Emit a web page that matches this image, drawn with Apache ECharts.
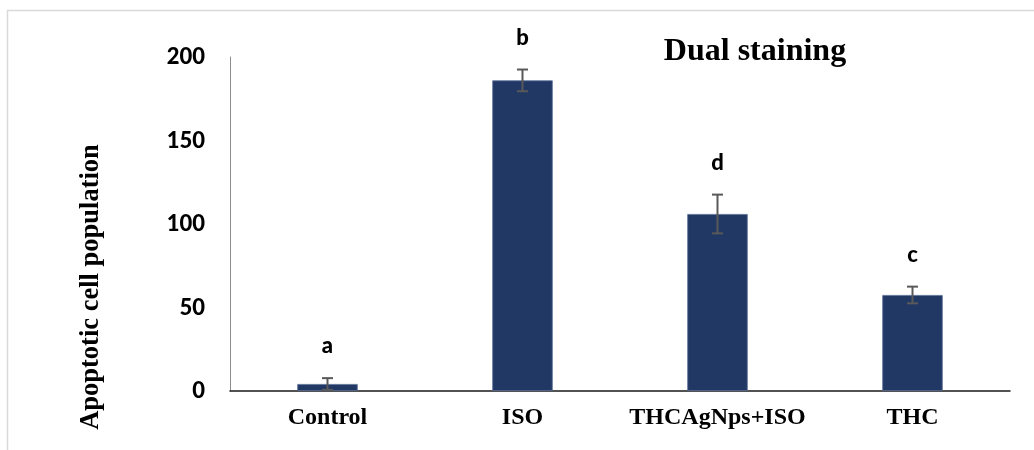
<!DOCTYPE html>
<html>
<head>
<meta charset="utf-8">
<script src="https://cdn.jsdelivr.net/npm/echarts@6/dist/echarts.min.js"></script>
<style>
html,body{margin:0;padding:0;background:#fff;}
#chart{width:1034px;height:450px;}
</style>
</head>
<body>
<div id="chart"></div>
<script>
const categories = ['Control', 'ISO', 'THCAgNps+ISO', 'THC'];
const means = [4.2, 186, 106, 57.5];
const errors = [3.5, 6.5, 11.6, 5];
const letters = ['a', 'b', 'd', 'c'];
const yTicks = [0, 50, 100, 150, 200];

const serif = "'Liberation Serif', 'Times New Roman', serif";
const sans = "Lato, 'Open Sans', sans-serif";

const chart = echarts.init(document.getElementById('chart'));
chart.setOption({
  backgroundColor: '#fff',
  animation: false,
  title: {
    text: 'Dual staining',
    left: 750,
    top: 31,
    textAlign: 'center',
    textStyle: { fontFamily: serif, fontWeight: 'bold', fontSize: 32, color: '#000' }
  },
  grid: { left: 230, right: 24, top: 57, bottom: 59 },
  xAxis: {
    type: 'category',
    data: categories,
    axisTick: { show: false },
    axisLine: { lineStyle: { color: '#1a1a1a', width: 1.5 } },
    axisLabel: { interval: 0, margin: 15, fontFamily: serif, fontWeight: 'bold', fontSize: 24, color: '#000' }
  },
  yAxis: {
    type: 'value',
    min: yTicks[0],
    max: yTicks[yTicks.length - 1],
    interval: 50,
    splitLine: { show: false },
    axisTick: { show: false },
    axisLine: { show: true, lineStyle: { color: '#8c8c8c', width: 1 } },
    axisLabel: { margin: 25, fontFamily: sans, fontWeight: 900, fontSize: 22, color: '#000' }
  },
  graphic: [
    {
      type: 'rect',
      shape: { x: 7.5, y: 10.5, width: 1040, height: 460 },
      style: { fill: 'none', stroke: '#d9d9d9', lineWidth: 1.5 },
      z: -1
    },
    {
      type: 'text',
      x: 91, y: 287,
      rotation: Math.PI / 2,
      style: {
        text: 'Apoptotic cell population',
        fontFamily: serif, fontWeight: 'bold', fontSize: 26.5, fill: '#000',
        textAlign: 'center', textVerticalAlign: 'middle'
      }
    }
  ],
  series: [
    {
      type: 'bar',
      data: means,
      barWidth: '31%',
      itemStyle: { color: '#213865', borderColor: '#5b6f96', borderWidth: 0.8 },
      z: 2
    },
    {
      type: 'custom',
      data: means.map((m, i) => [i, m, errors[i]]),
      z: 3,
      renderItem: function (params, api) {
        const i = api.value(0);
        const m = api.value(1);
        const e = api.value(2);
        const top = api.coord([i, m + e]);
        const bot = api.coord([i, Math.max(0, m - e)]);
        const x = top[0];
        const cap = 5.5;
        const st = { stroke: '#595959', lineWidth: 2 };
        return {
          type: 'group',
          children: [
            { type: 'line', shape: { x1: x, y1: top[1], x2: x, y2: bot[1] }, style: st },
            { type: 'line', shape: { x1: x - cap, y1: top[1], x2: x + cap, y2: top[1] }, style: st },
            { type: 'line', shape: { x1: x - cap, y1: bot[1], x2: x + cap, y2: bot[1] }, style: st },
            {
              type: 'text',
              x: x, y: top[1] - 32,
              style: {
                text: letters[params.dataIndex],
                fontFamily: sans, fontWeight: 900, fontSize: 22, fill: '#000',
                textAlign: 'center', textVerticalAlign: 'middle'
              }
            }
          ]
        };
      }
    }
  ]
});
</script>
</body>
</html>
